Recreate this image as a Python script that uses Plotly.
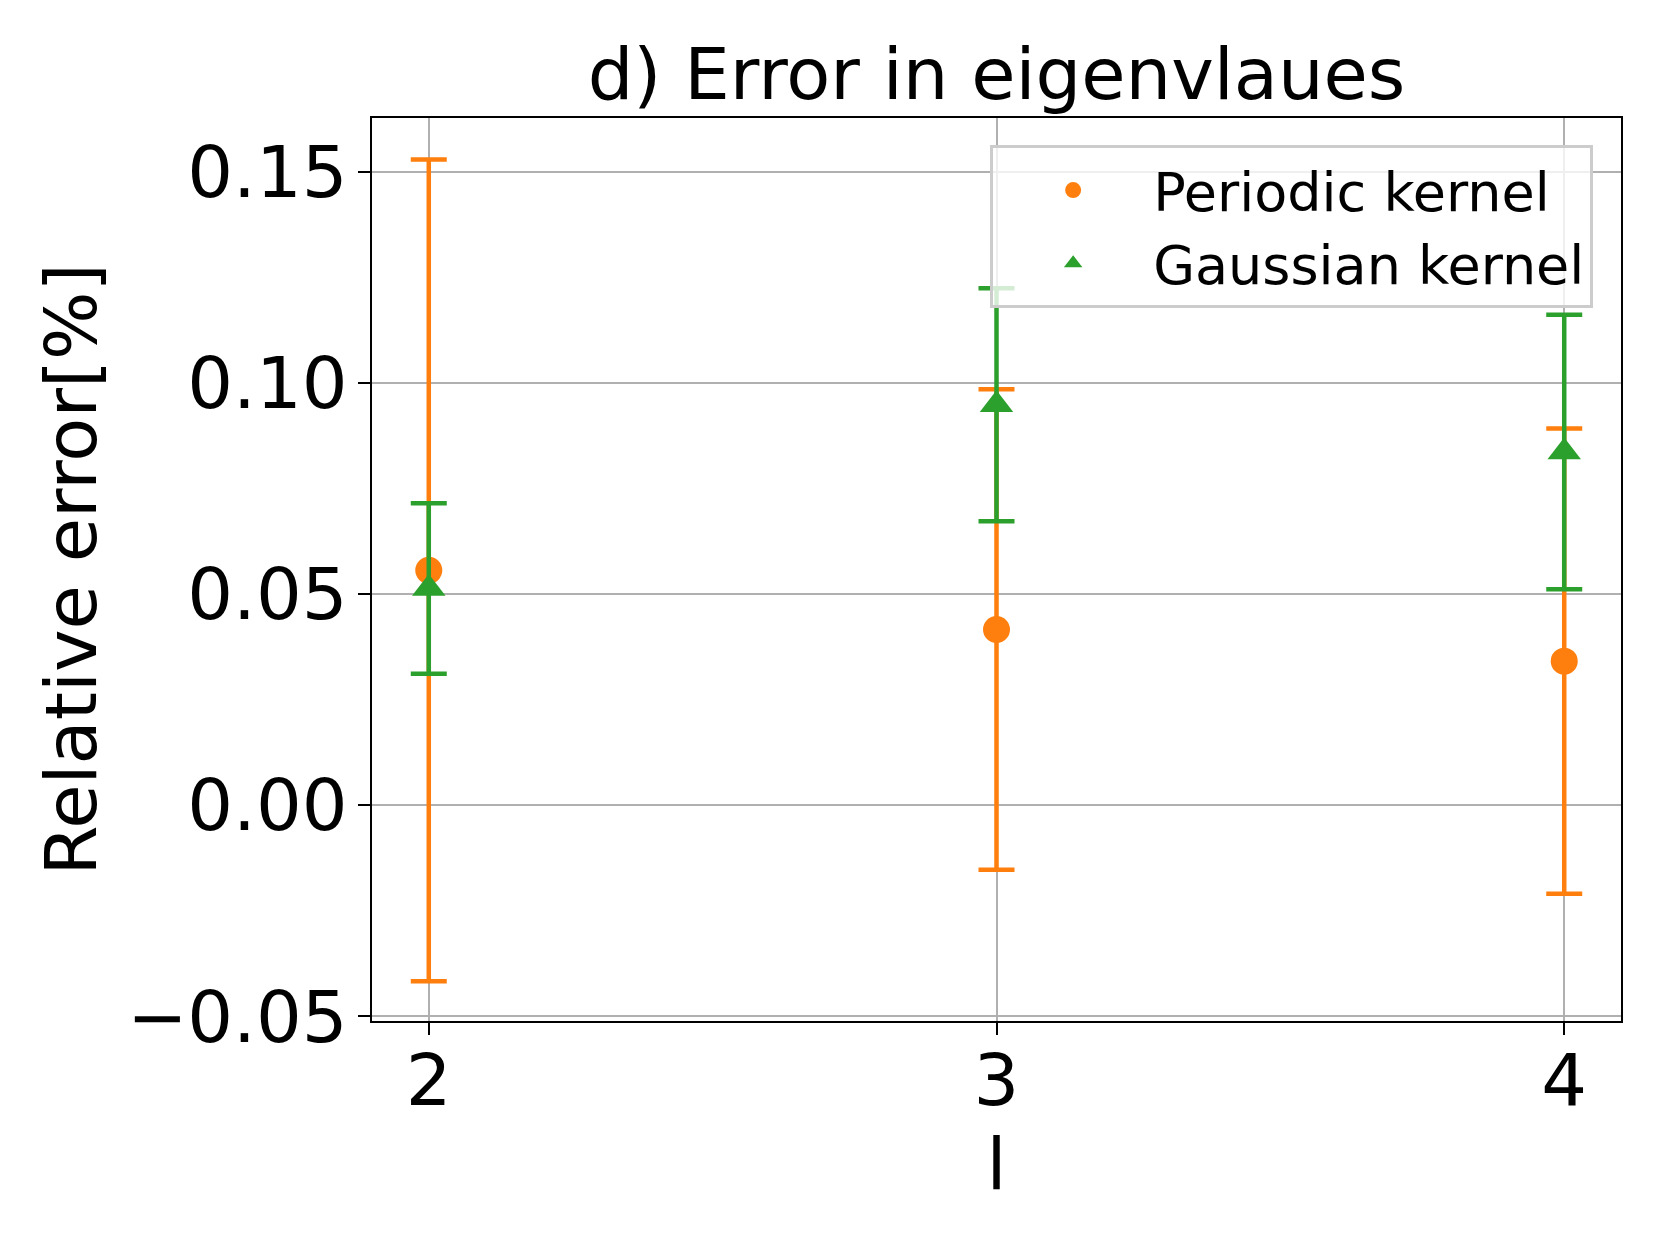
import plotly.graph_objects as go

l_values = [2, 3, 4]
periodic_mean = [0.0556, 0.0416, 0.0341]
periodic_err = [0.0973, 0.0569, 0.0551]
gaussian_mean = [0.0513, 0.0948, 0.0836]
gaussian_err = [0.0202, 0.0276, 0.0325]
y_ticks = [-0.05, 0.0, 0.05, 0.10, 0.15]
x_ticks = [2, 3, 4]

ORANGE = "#ff7f0e"
GREEN = "#2ca02c"
FONT = "DejaVu Sans"

fig = go.Figure()
fig.add_trace(go.Scatter(
    x=l_values, y=periodic_mean, mode="markers", name="Periodic kernel",
    marker=dict(symbol="circle", size=27, color=ORANGE),
    error_y=dict(type="data", array=periodic_err, visible=True,
                 color=ORANGE, thickness=4.5, width=18),
))
fig.add_trace(go.Scatter(
    x=l_values, y=gaussian_mean, mode="markers", name="Gaussian kernel",
    marker=dict(symbol="triangle-up", size=29, color=GREEN),
    error_y=dict(type="data", array=gaussian_err, visible=True,
                 color=GREEN, thickness=4.5, width=18),
))

axis_common = dict(
    showline=True, linecolor="black", linewidth=2, mirror=True,
    ticks="outside", ticklen=12, tickwidth=2, tickcolor="black",
    showgrid=True, gridcolor="#b0b0b0", gridwidth=2,
    zeroline=False,
    tickfont=dict(family=FONT, size=72, color="black"),
    title_font=dict(family=FONT, size=72, color="black"),
)

fig.update_xaxes(
    range=[1.9, 4.1], tickvals=x_ticks, ticktext=[str(v) for v in x_ticks],
    title_text="l", title_standoff=10, ticklabelstandoff=-16, **axis_common,
)
fig.update_yaxes(
    range=[-0.0511, 0.1627], tickvals=y_ticks, tickformat=".2f",
    title_text="Relative error[%]", title_standoff=7, ticklabelstandoff=-4,
    **axis_common,
)

L, R, T, B = 364, 47, 110, 232
fig.update_layout(
    width=1660, height=1245,
    margin=dict(l=L, r=R, t=T, b=B, autoexpand=False),
    plot_bgcolor="white", paper_bgcolor="white",
    font=dict(family=FONT, color="black"),
    title=dict(text="d) Error in eigenvlaues", x=(L + 1660 - R) / 2 / 1660, xanchor="center",
               y=1 - 66 / 1245, yanchor="middle", yref="container",
               font=dict(family=FONT, size=72, color="black")),
    legend=dict(x=0.9777, y=0.9696, xanchor="right", yanchor="top",
                bgcolor="rgba(255,255,255,0.8)", bordercolor="#cccccc", borderwidth=3,
                font=dict(family=FONT, size=54, color="black"),
                itemwidth=150),
    showlegend=True,
)

fig.write_html("out.html")
